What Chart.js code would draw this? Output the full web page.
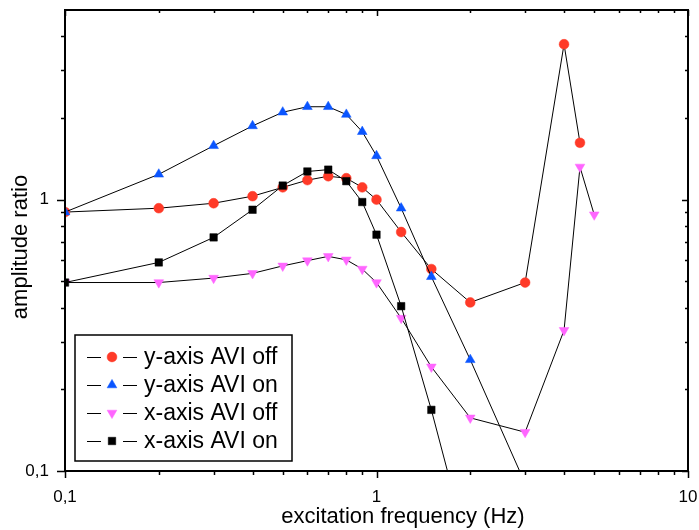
<!DOCTYPE html>
<html>
<head>
<meta charset="utf-8">
<script src="https://cdn.jsdelivr.net/npm/chart.js@4/dist/chart.umd.min.js"></script>
<style>
  html, body { margin: 0; padding: 0; background: #fff; }
  #wrap { width: 699px; height: 530px; }
</style>
</head>
<body>
<div id="wrap"><canvas id="c" width="699" height="530"></canvas></div>
<script>
// frequencies (Hz) per series
const freqYOff = [0.1, 0.2, 0.3, 0.4, 0.5, 0.6, 0.7, 0.8, 0.9, 1, 1.2, 1.5, 2, 3, 4, 4.5];
const freqYOn = [0.1, 0.2, 0.3, 0.4, 0.5, 0.6, 0.7, 0.8, 0.9, 1, 1.2, 1.5, 2, 3];
const freqXOff = [0.1, 0.2, 0.3, 0.4, 0.5, 0.6, 0.7, 0.8, 0.9, 1, 1.2, 1.5, 2, 3, 4, 4.5, 5];
const freqXOn = [0.1, 0.2, 0.3, 0.4, 0.5, 0.6, 0.7, 0.8, 0.9, 1, 1.2, 1.5, 2];

// amplitude ratios
const yAxisAviOff = [0.90, 0.93, 0.97, 1.03, 1.11, 1.18, 1.22, 1.20, 1.11, 1.0, 0.76, 0.555, 0.418, 0.495, 3.74, 1.62];
const yAxisAviOn = [0.90, 1.24, 1.58, 1.87, 2.10, 2.20, 2.20, 2.06, 1.78, 1.45, 0.93, 0.52, 0.257, 0.09];
const xAxisAviOff = [0.495, 0.495, 0.514, 0.535, 0.57, 0.596, 0.618, 0.60, 0.555, 0.495, 0.366, 0.242, 0.157, 0.139, 0.33, 1.32, 0.88];
const xAxisAviOn = [0.495, 0.587, 0.726, 0.918, 1.127, 1.27, 1.29, 1.17, 0.98, 0.743, 0.405, 0.168, 0.048];

const seriesLabels = ["y-axis AVI off", "y-axis AVI on", "x-axis AVI off", "x-axis AVI on"];
const xTitle = "excitation frequency (Hz)";
const yTitle = "amplitude ratio";

// axis ticks
const xMajor = [0.1, 1, 10];
const xMinor = [0.2, 0.3, 0.4, 0.5, 0.6, 0.7, 0.8, 0.9, 2, 3, 4, 5, 6, 7, 8, 9];
const yMajor = [0.1, 1];
const yMinor = [0.2, 0.3, 0.4, 0.5, 0.6, 0.7, 0.8, 0.9, 2, 3, 4];

const FONT = "'Liberation Sans', Arial, sans-serif";

function pts(xs, ys) {
  return xs.map((x, i) => ({ x, y: ys[i] }));
}
function fmt(v) {
  return String(v).replace(".", ",");
}

function ds(label, data, color, style, radius, rotation, order) {
  return {
    label, data, order,
    borderColor: "#000",
    borderWidth: 1,
    pointStyle: style,
    pointRadius: radius,
    pointRotation: rotation,
    pointBackgroundColor: color,
    pointBorderColor: color,
    pointBorderWidth: 0.5,
    tension: 0,
    clip: 0
  };
}

// frame, Origin-style ticks, axis titles and the boxed legend
const frame = {
  id: "frame",
  afterDatasetsDraw(chart) {
    const { ctx, chartArea: a, scales: { x, y } } = chart;
    ctx.save();
    ctx.strokeStyle = "#000";
    ctx.lineWidth = 1.5;
    ctx.beginPath();
    xMajor.concat(xMinor).forEach(v => {
      const px = Math.round(x.getPixelForValue(v)) + 0.5;
      const out = xMajor.includes(v) ? 7 : 4;
      const inn = xMajor.includes(v) ? 6 : 3;
      ctx.moveTo(px, a.bottom); ctx.lineTo(px, a.bottom + out);
      ctx.moveTo(px, a.top); ctx.lineTo(px, a.top + inn);
    });
    yMajor.concat(yMinor).forEach(v => {
      const py = Math.round(y.getPixelForValue(v)) + 0.5;
      const out = yMajor.includes(v) ? 8 : 4;
      const inn = yMajor.includes(v) ? 6 : 3;
      ctx.moveTo(a.left, py); ctx.lineTo(a.left - out, py);
      ctx.moveTo(a.right, py); ctx.lineTo(a.right - inn, py);
    });
    ctx.stroke();
    ctx.lineWidth = 2;
    ctx.strokeRect(a.left, a.top, a.right - a.left, a.bottom - a.top);
    ctx.restore();
  },
  afterDraw(chart) {
    const { ctx } = chart;
    ctx.save();
    // axis titles
    ctx.fillStyle = "#000";
    ctx.font = "22px " + FONT;
    ctx.textAlign = "center";
    ctx.textBaseline = "alphabetic";
    ctx.fillText(xTitle, 403, 523);
    ctx.save();
    ctx.translate(27, 247);
    ctx.rotate(-Math.PI / 2);
    ctx.fillText(yTitle, 0, 0);
    ctx.restore();

    // legend box inside the plot, lower left
    const bx = 75, by = 335, bw = 217, bh = 126;
    ctx.fillStyle = "#fff";
    ctx.fillRect(bx, by, bw, bh);
    ctx.strokeStyle = "#000";
    ctx.lineWidth = 1.5;
    ctx.strokeRect(bx, by, bw, bh);
    ctx.font = "23px " + FONT;
    ctx.textAlign = "left";
    ctx.textBaseline = "middle";
    chart.data.datasets.forEach((d, i) => {
      const ry = 357 + i * 28;
      ctx.strokeStyle = "#000";
      ctx.lineWidth = 1;
      ctx.beginPath();
      ctx.moveTo(87, ry + 0.5); ctx.lineTo(101, ry + 0.5);
      ctx.moveTo(123, ry + 0.5); ctx.lineTo(137, ry + 0.5);
      ctx.stroke();
      ctx.fillStyle = d.pointBackgroundColor;
      ctx.strokeStyle = d.pointBorderColor;
      ctx.lineWidth = 0.5;
      Chart.helpers.drawPoint(ctx, {
        pointStyle: d.pointStyle, radius: d.pointRadius, rotation: d.pointRotation, borderWidth: 0.5
      }, 112, ry);
      ctx.fillStyle = "#000";
      ctx.fillText(d.label, 144, ry + 1);
    });
    ctx.restore();
  }
};

new Chart(document.getElementById("c"), {
  type: "line",
  data: {
    datasets: [
      ds(seriesLabels[0], pts(freqYOff, yAxisAviOff), "#ff3a28", "circle", 4.9, 0, 4),
      ds(seriesLabels[1], pts(freqYOn, yAxisAviOn), "#0a55ff", "triangle", 5.6, 0, 3),
      ds(seriesLabels[2], pts(freqXOff, xAxisAviOff), "#ff66ff", "triangle", 5.6, 180, 2),
      ds(seriesLabels[3], pts(freqXOn, xAxisAviOn), "#000000", "rect", 5.3, 0, 1)
    ]
  },
  options: {
    responsive: false,
    animation: false,
    events: [],
    layout: { padding: { top: 10, right: 11, left: 0, bottom: 0 } },
    plugins: { legend: { display: false }, tooltip: { enabled: false } },
    scales: {
      x: {
        type: "logarithmic",
        min: 0.1, max: 10,
        afterBuildTicks: s => { s.ticks = xMajor.map(v => ({ value: v })); },
        afterFit: s => {
          s.height = 59;
          s.paddingLeft = 0; s.paddingRight = 0; s.paddingTop = 0; s.paddingBottom = 0;
        },
        grid: { display: false, drawTicks: false },
        border: { display: false },
        ticks: {
          autoSkip: false, maxRotation: 0, padding: 16,
          color: "#000", font: { family: FONT, size: 17 },
          callback: v => fmt(v)
        }
      },
      y: {
        type: "logarithmic",
        min: 0.1, max: 5,
        afterBuildTicks: s => { s.ticks = yMajor.map(v => ({ value: v })); },
        afterFit: s => {
          s.width = 65;
          s.paddingLeft = 0; s.paddingRight = 0; s.paddingTop = 0; s.paddingBottom = 0;
        },
        grid: { display: false, drawTicks: false },
        border: { display: false },
        ticks: {
          autoSkip: false, padding: 16,
          color: "#000", font: { family: FONT, size: 17 },
          callback: v => fmt(v)
        }
      }
    }
  },
  plugins: [frame]
});
</script>
</body>
</html>
